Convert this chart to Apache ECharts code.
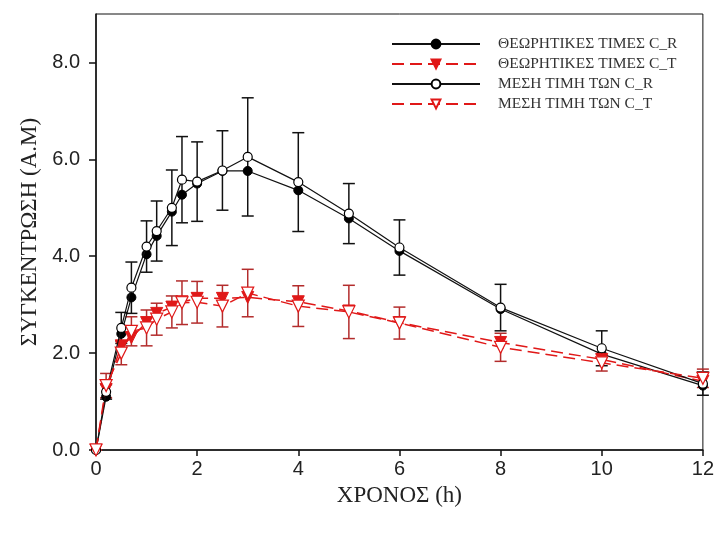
<!DOCTYPE html>
<html>
<head>
<meta charset="utf-8">
<script src="https://cdn.jsdelivr.net/npm/echarts@6/dist/echarts.min.js"></script>
<style>html,body{margin:0;padding:0;background:#fff;}#c{width:717px;height:537px;}</style>
</head>
<body>
<div id="c"></div>
<script>
// time points (h)
const times = [0, 0.2, 0.5, 0.7, 1.0, 1.2, 1.5, 1.7, 2.0, 2.5, 3, 4, 5, 6, 8, 10, 12];
// ΘΕΩΡΗΤΙΚΕΣ ΤΙΜΕΣ C_R
const theoR = [0, 1.10, 2.40, 3.15, 4.04, 4.42, 4.92, 5.27, 5.50, 5.76, 5.76, 5.36, 4.78, 4.11, 2.91, 1.98, 1.33];
// ΜΕΣΗ ΤΙΜΗ ΤΩΝ C_R and its error
const meanR = [0, 1.20, 2.52, 3.35, 4.20, 4.52, 5.00, 5.58, 5.54, 5.77, 6.05, 5.53, 4.88, 4.18, 2.94, 2.10, 1.37];
const errR  = [0, 0.15, 0.32, 0.53, 0.53, 0.62, 0.78, 0.89, 0.82, 0.82, 1.22, 1.02, 0.62, 0.57, 0.48, 0.36, 0.24];
// ΘΕΩΡΗΤΙΚΕΣ ΤΙΜΕΣ C_T
const theoT = [0, 1.25, 2.15, 2.32, 2.63, 2.82, 2.95, 3.06, 3.13, 3.13, 3.15, 3.06, 2.87, 2.63, 2.22, 1.87, 1.42];
// ΜΕΣΗ ΤΙΜΗ ΤΩΝ C_T and its error
const meanT = [0, 1.33, 2.00, 2.45, 2.52, 2.70, 2.85, 3.04, 3.05, 2.97, 3.24, 2.97, 2.85, 2.62, 2.12, 1.80, 1.48];
const errT  = [0, 0.25, 0.24, 0.30, 0.37, 0.33, 0.33, 0.45, 0.43, 0.43, 0.49, 0.42, 0.55, 0.33, 0.29, 0.17, 0.19];
// axis ticks
const xTicks = [0, 2, 4, 6, 8, 10, 12];
const yTicks = [0, 2, 4, 6, 8];
const names = ['ΘΕΩΡΗΤΙΚΕΣ ΤΙΜΕΣ C_R', 'ΘΕΩΡΗΤΙΚΕΣ ΤΙΜΕΣ C_T', 'ΜΕΣΗ ΤΙΜΗ ΤΩΝ C_R', 'ΜΕΣΗ ΤΙΜΗ ΤΩΝ C_T'];

const pairs = (ys) => times.map((t, i) => [t, ys[i]]);
const errData = (m, e) => times.map((t, i) => [t, m[i] - e[i], m[i] + e[i]]);

function errRender(color, width) {
  return function (params, api) {
    const x = api.value(0);
    const lo = api.coord([x, api.value(1)]);
    const hi = api.coord([x, api.value(2)]);
    const hw = 6;
    const st = { stroke: color, lineWidth: width };
    return {
      type: 'group',
      children: [
        { type: 'line', shape: { x1: lo[0], y1: lo[1], x2: hi[0], y2: hi[1] }, style: st },
        { type: 'line', shape: { x1: lo[0] - hw, y1: lo[1], x2: lo[0] + hw, y2: lo[1] }, style: st },
        { type: 'line', shape: { x1: hi[0] - hw, y1: hi[1], x2: hi[0] + hw, y2: hi[1] }, style: st }
      ]
    };
  };
}

const RED = '#e01818';
const RED_ERR = '#b32c2c';

const chart = echarts.init(document.getElementById('c'), null, { renderer: 'canvas' });
chart.setOption({
  animation: false,
  backgroundColor: '#fff',
  grid: { left: 96, right: 11, top: 14, bottom: 87, show: true, borderColor: '#111', borderWidth: 1, containLabel: false },
  legend: {
    orient: 'vertical', left: 386, top: 31,
    itemWidth: 88, itemHeight: 11, itemGap: 4,
    data: names,
    textStyle: { fontFamily: 'Liberation Serif', fontSize: 15.5, color: '#333', padding: [0, 0, 0, 13] }
  },
  xAxis: {
    type: 'value', min: 0, max: 12, interval: 2,
    name: 'ΧΡΟΝΟΣ (h)', nameLocation: 'middle', nameGap: 34,
    nameTextStyle: { fontFamily: 'Liberation Serif', fontSize: 23, color: '#222' },
    axisLine: { show: true, onZero: false, lineStyle: { color: '#111', width: 1.5 } },
    axisTick: { show: true, inside: false, length: 6, customValues: xTicks, lineStyle: { color: '#111', width: 1.5 } },
    axisLabel: { margin: 9, fontFamily: 'Liberation Sans', fontSize: 20, color: '#222', customValues: xTicks },
    splitLine: { show: false }
  },
  yAxis: {
    type: 'value', min: 0, max: 9, interval: 2,
    name: 'ΣΥΓΚΕΝΤΡΩΣΗ (Α.Μ)', nameLocation: 'middle', nameGap: 53,
    nameTextStyle: { fontFamily: 'Liberation Serif', fontSize: 23, color: '#222' },
    axisLine: { show: true, onZero: false, lineStyle: { color: '#111', width: 1.5 } },
    axisTick: { show: true, inside: false, length: 7, customValues: yTicks, lineStyle: { color: '#111', width: 1.5 } },
    axisLabel: { margin: 16, fontFamily: 'Liberation Sans', fontSize: 20, color: '#222', customValues: yTicks,
      formatter: (v) => v.toFixed(1) },
    splitLine: { show: false }
  },
  series: [
    { type: 'custom', name: 'errR', renderItem: errRender('#111', 1.5), data: errData(meanR, errR),
      encode: { x: 0, y: [1, 2] }, z: 2, clip: false, silent: true },
    { type: 'custom', name: 'errT', renderItem: errRender(RED_ERR, 1.5), data: errData(meanT, errT),
      encode: { x: 0, y: [1, 2] }, z: 2, clip: false, silent: true },
    { type: 'line', name: names[0], data: pairs(theoR), z: 3, clip: false,
      symbol: 'circle', symbolSize: 9, showAllSymbol: true,
      lineStyle: { color: '#111', width: 1.2 },
      itemStyle: { color: '#000', borderColor: '#000', borderWidth: 1 } },
    { type: 'line', name: names[1], data: pairs(theoT), z: 3, clip: false,
      symbol: 'triangle', symbolRotate: 180, symbolSize: 12, showAllSymbol: true,
      lineStyle: { color: RED, width: 1.5, type: [12, 6] },
      itemStyle: { color: RED, borderColor: RED, borderWidth: 1 } },
    { type: 'line', name: names[2], data: pairs(meanR), z: 4, clip: false,
      symbol: 'circle', symbolSize: 9, showAllSymbol: true,
      lineStyle: { color: '#111', width: 1.2 },
      itemStyle: { color: '#fff', borderColor: '#000', borderWidth: 1.2 } },
    { type: 'line', name: names[3], data: pairs(meanT), z: 4, clip: false,
      symbol: 'triangle', symbolRotate: 180, symbolSize: 12, showAllSymbol: true,
      lineStyle: { color: RED, width: 1.5, type: [12, 6] },
      itemStyle: { color: '#fff', borderColor: RED, borderWidth: 1.2 } }
  ]
});
</script>
</body>
</html>
